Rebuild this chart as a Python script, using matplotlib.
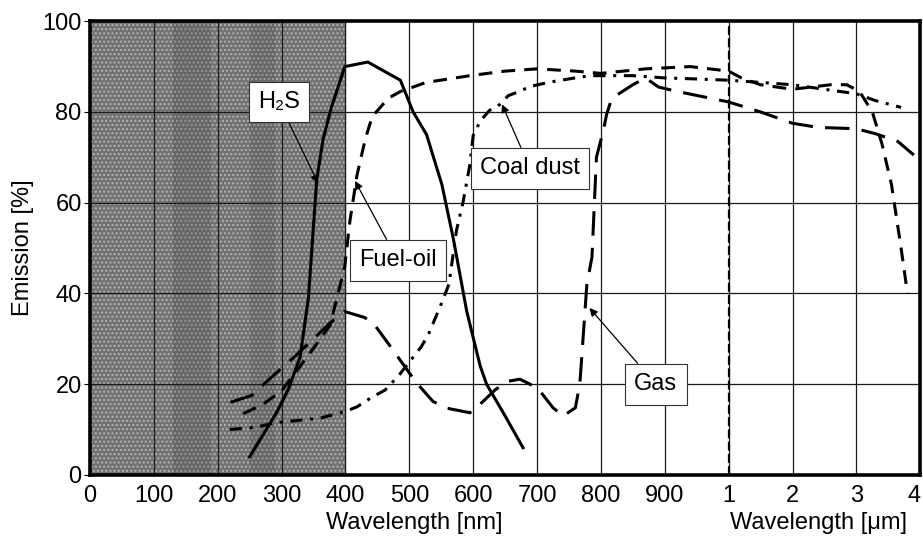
import numpy as np
import matplotlib
matplotlib.use('Agg')
import matplotlib.pyplot as plt

plt.rcParams['font.family'] = ['Liberation Sans', 'DejaVu Sans']

# wavelengths in nm (values above 1000 nm are on the micrometre part of the axis)
h2s_wl  = [250, 292, 311, 329, 342, 355, 365, 378, 399, 435, 486, 506, 527, 551, 569, 590, 611, 621, 650, 678]
h2s_em  = [4, 13.7, 19, 26, 39, 65, 74, 81, 90, 91, 87, 80, 75, 64, 52, 36, 24, 20, 13, 6]

fuel_wl = [240, 270, 300, 340, 376, 399, 407, 418, 431, 442, 467, 486, 526, 595, 650, 700, 760, 800,
           870, 940, 1000, 1200, 1500, 2000, 2300, 2600, 2850, 3050, 3250, 3400, 3550, 3700, 3800]
fuel_em = [13.5, 15.5, 18.5, 26, 33, 46, 56, 66, 74, 79, 83, 84.5, 86.5, 88, 89, 89.5, 89, 88.5,
           89.5, 90, 89, 87.5, 86, 85, 85.5, 86, 86, 84.5, 80, 73, 64, 50, 40]

gas_wl  = [220, 253, 280, 320, 350, 376, 399, 430, 446, 472, 504, 517, 537, 559, 595, 611, 634, 653,
           673, 689, 705, 725, 741, 760, 767, 778, 786, 793, 804, 809, 817, 850, 870, 890, 920, 955,
           1000, 1500, 2000, 2400, 3000, 3300, 3650, 3900]
gas_em  = [16, 17.5, 21, 26, 30, 33.5, 36, 34.7, 33, 28, 21.7, 19.4, 16.2, 14.7, 13.7, 15.6, 18.7, 20.6,
           21.1, 20, 18.4, 14.8, 13, 14.8, 20, 42, 48, 70, 76, 79.5, 83, 86, 87.5, 85.5, 84.5, 83.5,
           82.2, 80, 77.5, 76.6, 76.3, 75.2, 73.5, 70.5]

coal_wl = [219, 260, 290, 360, 400, 418, 440, 462, 484, 519, 530, 548, 562, 574, 584, 595, 600, 611,
           626, 639, 655, 670, 689, 717, 755, 783, 810, 850, 900, 944, 1000, 1500, 2000, 2500, 3000,
           3300, 3700]
coal_em = [10, 10.5, 11.5, 12.5, 14, 15, 17, 18.7, 22, 28.3, 31, 37, 42, 54, 60, 68.5, 74.8, 78,
           80.4, 81.3, 83.6, 84.4, 85.6, 86.5, 87.4, 88, 88, 88, 87.5, 87.3, 87, 86.5, 86, 85, 84,
           82.5, 81]

tick_pos = list(range(14))
tick_lab = ['0', '100', '200', '300', '400', '500', '600', '700', '800', '900', '1', '2', '3', '4']
y_ticks = [0, 20, 40, 60, 80, 100]


def axpos(wl):
    # 0..900 nm linear (100 nm per unit), then 1..4 um (1 um per unit)
    wl = np.asarray(wl, dtype=float)
    return np.where(wl <= 1000, wl / 100.0, 9 + wl / 1000.0)


fig = plt.figure(figsize=(9.23, 5.44), dpi=100)
ax = fig.add_axes([0.0975, 0.127, 0.8995, 0.834])

# shaded UV region
ax.axvspan(0, 4, color='#727272', zorder=0)
ax.axvspan(0, 4, facecolor='none', edgecolor='#b4b4b4', hatch='....', lw=0, zorder=0)
ax.axvspan(1.3, 1.9, color='#444444', alpha=0.25, lw=0, zorder=0)
ax.axvspan(2.5, 2.9, color='#444444', alpha=0.2, lw=0, zorder=0)

for x in tick_pos[1:-1]:
    ax.axvline(x, color='#1a1a1a', lw=0.9, zorder=1)
for y in y_ticks[1:-1]:
    ax.axhline(y, color='#1a1a1a', lw=0.9, zorder=1)

# 1 um boundary
ax.axvline(10, color='k', lw=1.6, ls=(0, (4, 1.5)), zorder=2)

ax.plot(axpos(h2s_wl), h2s_em, color='k', lw=2.2, zorder=3)
ax.plot(axpos(fuel_wl), fuel_em, color='k', lw=2.2, ls=(0, (4.5, 3)), zorder=3)
ax.plot(axpos(gas_wl), gas_em, color='k', lw=2.2, ls=(0, (8, 4)), zorder=3)
ax.plot(axpos(coal_wl), coal_em, color='k', lw=2.2, ls=(0, (4, 2.5, 1, 2.5)), zorder=3)

box = dict(boxstyle='square,pad=0.4', fc='white', ec='#333333', lw=0.8)
arr = dict(arrowstyle='-|>', color='k', lw=0.9, mutation_scale=12, shrinkA=0, shrinkB=0)
ax.annotate('H₂S', xy=(3.57, 64.3), xytext=(2.96, 82.2), fontsize=17, ha='center', va='center',
            bbox=box, arrowprops=arr, zorder=5)
ax.annotate('Fuel-oil', xy=(4.15, 64.8), xytext=(4.82, 47.3), fontsize=17, ha='center', va='center',
            bbox=box, arrowprops=arr, zorder=5)
ax.annotate('Coal dust', xy=(6.45, 81.7), xytext=(6.89, 67.6), fontsize=17, ha='center', va='center',
            bbox=box, arrowprops=arr, zorder=5)
ax.annotate('Gas', xy=(7.82, 36.8), xytext=(8.86, 20), fontsize=17, ha='center', va='center',
            bbox=box, arrowprops=arr, zorder=5)

ax.set_xlim(0, 13)
ax.set_ylim(0, 100)
ax.set_xticks(tick_pos)
ax.set_xticklabels(tick_lab)
ax.set_yticks(y_ticks)
ax.tick_params(axis='both', labelsize=17, length=4, width=0.8, direction='out')
ax.tick_params(axis='y', pad=2)
ax.tick_params(axis='x', length=0, pad=7)
ax.get_xticklabels()[-1].set_ha('right')
for s in ax.spines.values():
    s.set_linewidth(2.6)

ax.set_ylabel('Emission [%]', fontsize=17, labelpad=6)
ax.text(5.07, -0.106, 'Wavelength [nm]', transform=ax.get_xaxis_transform(), fontsize=17,
        ha='center', va='center')
ax.text(11.4, -0.106, 'Wavelength [μm]', transform=ax.get_xaxis_transform(), fontsize=17,
        ha='center', va='center')

fig.savefig('out.png', dpi=100)
